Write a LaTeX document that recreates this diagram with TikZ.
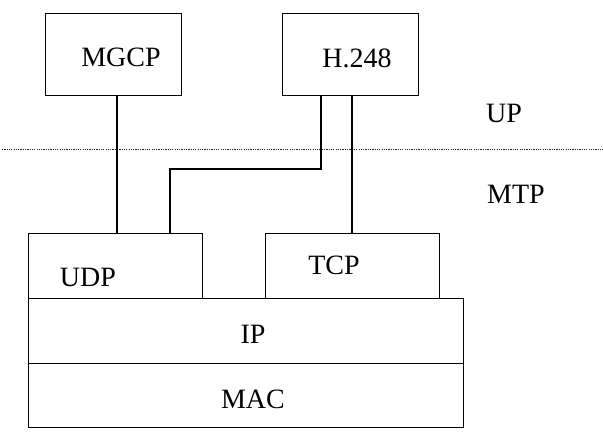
\documentclass[tikz,border=0pt]{standalone}
\usepackage{fontspec}
\setmainfont{Liberation Serif}
\begin{document}
\begin{tikzpicture}[x=1pt,y=-1pt,
  box/.style={draw=black, line width=1.4pt, inner sep=0pt, anchor=north west},
  lbl/.style={font=\fontsize{28}{32}\selectfont, inner sep=0pt},
  wire/.style={draw=black, line width=1.8pt},
  dotline/.style={draw=black!85, line width=1pt, dash pattern=on 1.2pt off 1.1pt}]
\useasboundingbox (0,0) rectangle (603,432);
% boxes
\node[box, minimum width=136pt, minimum height=82pt] (mgcp) at (45,13) {};
\node[box, minimum width=136pt, minimum height=82pt] (h248) at (282,13) {};
\node[box, minimum width=174pt, minimum height=65pt] (udp) at (28,233) {};
\node[box, minimum width=174pt, minimum height=65pt] (tcp) at (265,233) {};
\node[box, minimum width=435pt, minimum height=65pt] (ip) at (28,298) {};
\node[box, minimum width=435pt, minimum height=64pt] (mac) at (28,363) {};
% labels
\node[lbl] (mgcpT) at (121,57) {MGCP};
\node[lbl] (h248T) at (357,58) {H.248};
\node[lbl] (udpT) at (88,277) {UDP};
\node[lbl] (tcpT) at (334,265) {TCP};
\node[lbl] (ipT) at (253,334) {IP};
\node[lbl] (macT) at (253,399) {MAC};
\node[lbl] (upT) at (504,113) {UP};
\node[lbl] (mtpT) at (516,194) {MTP};
% dotted separator
\coordinate (dl) at (2,149);
\coordinate (dr) at (603,149);
\draw[dotline] (dl) -- (dr);
% connectors
\coordinate (xa) at (117,0);
\coordinate (xc) at (352,0);
\coordinate (b1) at (321,169);
\coordinate (b2) at (170,169);
\draw[wire] (mgcp.south -| xa) -- (udp.north -| xa);
\draw[wire] (h248.south -| b1) -- (b1) -- (b2) -- (udp.north -| b2);
\draw[wire] (h248.south -| xc) -- (tcp.north -| xc);
\end{tikzpicture}
\end{document}
